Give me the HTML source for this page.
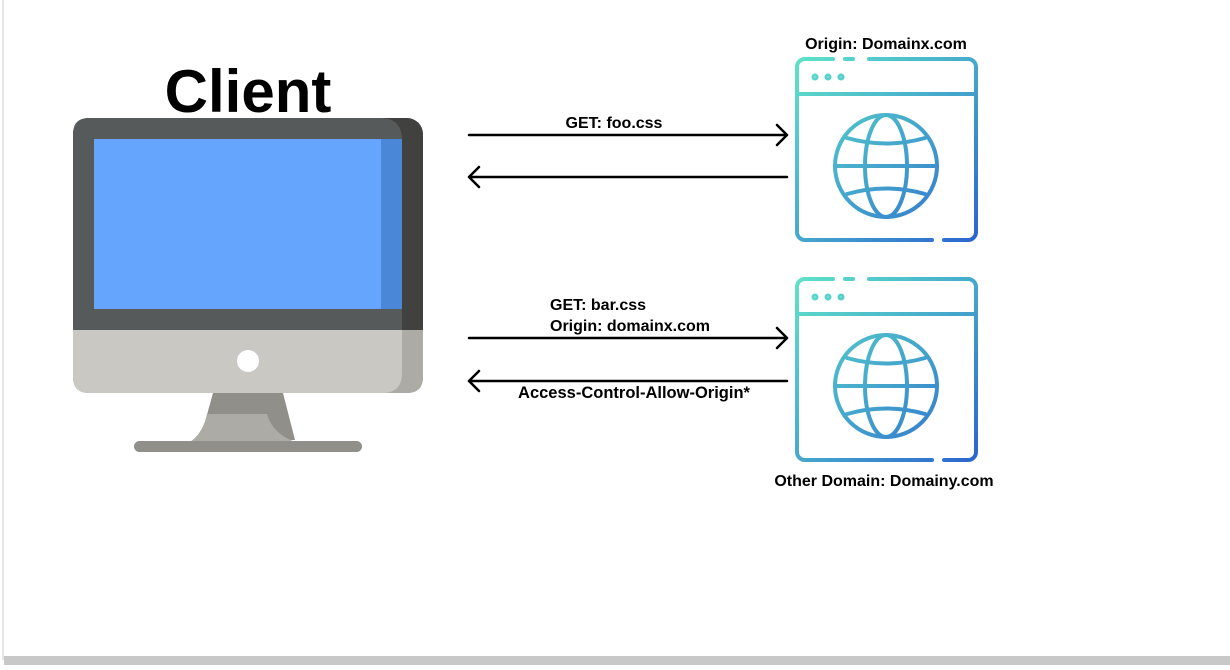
<!DOCTYPE html>
<html><head><meta charset="utf-8"><style>
html,body{margin:0;padding:0;background:#fff}
body{width:1230px;height:670px;position:relative;overflow:hidden;font-family:"Liberation Sans",sans-serif}
</style></head><body>
<svg width="1230" height="670" viewBox="0 0 1230 670" xmlns="http://www.w3.org/2000/svg" style="position:absolute;left:0;top:0">
<defs>
<linearGradient id="g" gradientUnits="userSpaceOnUse" x1="795" y1="0" x2="978" y2="185">
<stop offset="0" stop-color="#5fe3c9"/><stop offset="0.55" stop-color="#43a3cc"/><stop offset="1" stop-color="#2b63cf"/>
</linearGradient>
<g id="br" fill="none" stroke="url(#g)" stroke-width="4" stroke-linecap="round">
<path d="M833,2 H805 a8,8 0 0 0 -8,8 V175 a8,8 0 0 0 8,8 H932"/>
<path d="M845,2 H853"/>
<path d="M869,2 H968 a8,8 0 0 1 8,8 V175 a8,8 0 0 1 -8,8 H944"/>
<path d="M797,37 H976"/>
<circle cx="886" cy="109" r="51"/>
<ellipse cx="886" cy="109" rx="21" ry="51"/>
<path d="M835,109 H937 M847,81 Q886,92 925,81 M847,137 Q886,126 925,137"/>
<circle cx="815" cy="20" r="1.5" stroke-width="4"/><circle cx="828" cy="20" r="1.5" stroke-width="4"/><circle cx="841" cy="20" r="1.5" stroke-width="4"/>
</g>
</defs>
<rect x="2" y="0" width="2" height="660" fill="#e6e6e6"/>
<rect x="4" y="656" width="1226" height="9" fill="#c8c8c8"/>
<text x="248" y="112" text-anchor="middle" font-size="60" font-weight="bold" fill="#000">Client</text>
<rect x="73" y="118" width="350" height="275" rx="16" fill="#41423f"/>
<path d="M89,118 H380 Q402,118 402,140 V330 H73 V134 Q73,118 89,118Z" fill="#575a5a"/>
<rect x="94" y="139" width="308" height="170" fill="#66a5fd"/>
<rect x="381" y="139" width="21" height="170" fill="#4a87d7"/>
<path d="M73,330 H423 V377 Q423,393 407,393 H89 Q73,393 73,377Z" fill="#acaba6"/>
<path d="M73,330 H402 V373 Q402,393 382,393 H89 Q73,393 73,377Z" fill="#c9c8c3"/>
<circle cx="248" cy="361" r="11" fill="#fff"/>
<path d="M213,393 H283 L295,440 H200Z" fill="#908f8a"/>
<path d="M207,414 H267 Q272,433 295,442 H190 Q203,433 207,414Z" fill="#acaba6"/>
<rect x="134" y="441" width="228" height="11" rx="5.5" fill="#908f8a"/>
<use href="#br" transform="translate(0,57)"/>
<use href="#br" transform="translate(0,277)"/>
<g font-size="16" font-weight="bold" fill="#000">
<text x="886" y="49" text-anchor="middle">Origin: Domainx.com</text>
<text x="884" y="486" text-anchor="middle">Other Domain: Domainy.com</text>
<text x="614" y="128" text-anchor="middle">GET: foo.css</text>
<text x="550" y="310">GET: bar.css</text>
<text x="550" y="331">Origin: domainx.com</text>
<text x="634" y="398" text-anchor="middle" font-size="16.5">Access-Control-Allow-Origin*</text>
</g>
<g fill="none" stroke="#000" stroke-width="2.5" stroke-linecap="round" stroke-linejoin="round">
<path d="M469,135 H787 M777,125 L787,135 L777,145"/>
<path d="M469,177 H787 M479,167 L469,177 L479,187"/>
<path d="M469,338 H787 M777,328 L787,338 L777,348"/>
<path d="M469,381 H787 M479,371 L469,381 L479,391"/>
</g>
</svg>
</body></html>
